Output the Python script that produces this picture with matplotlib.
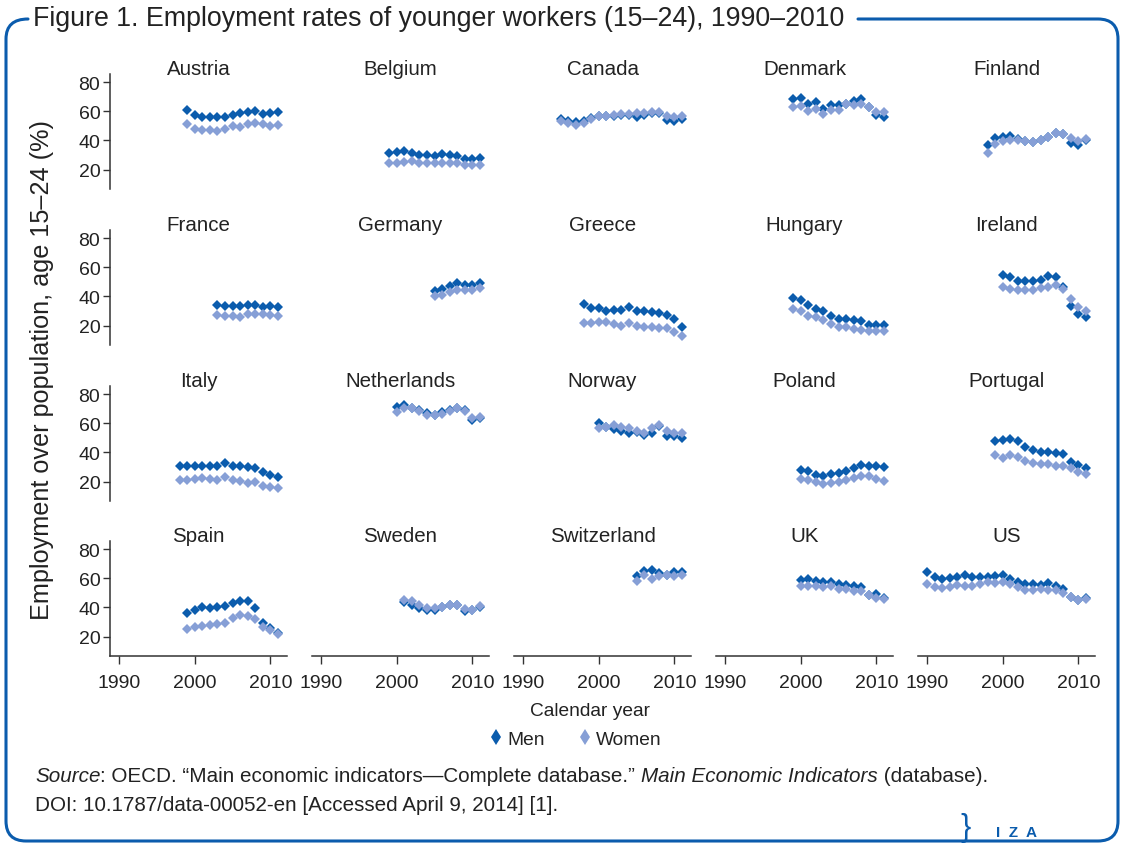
import matplotlib
matplotlib.use("Agg")
import matplotlib.pyplot as plt
from matplotlib import font_manager
from matplotlib.lines import Line2D
from matplotlib.path import Path
from matplotlib.patches import PathPatch

names = {f.name for f in font_manager.fontManager.ttflist}
BASE = "Liberation Sans" if "Liberation Sans" in names else "DejaVu Sans"
NARROW = "Liberation Sans Narrow" if "Liberation Sans Narrow" in names else BASE
plt.rcParams["font.family"] = [BASE, "DejaVu Sans"]

# ---------------- data ----------------
countries = ["Austria", "Belgium", "Canada", "Denmark", "Finland",
             "France", "Germany", "Greece", "Hungary", "Ireland",
             "Italy", "Netherlands", "Norway", "Poland", "Portugal",
             "Spain", "Sweden", "Switzerland", "UK", "US"]

first_year = {"Austria": 1999, "Belgium": 1999, "Canada": 1995, "Denmark": 1999,
              "Finland": 1998, "France": 2003, "Germany": 2005, "Greece": 1998,
              "Hungary": 1999, "Ireland": 2000, "Italy": 1998, "Netherlands": 2000,
              "Norway": 2000, "Poland": 2000, "Portugal": 1999, "Spain": 1999,
              "Sweden": 2001, "Switzerland": 2005, "UK": 2000, "US": 1990}

men = {
    "Austria": [61.0, 57.3, 56.0, 56.0, 56.0, 56.0, 57.3, 58.5, 59.6, 60.1, 57.8, 58.7, 59.8],
    "Belgium": [31.2, 32.4, 33.1, 31.7, 29.9, 29.9, 29.4, 30.5, 30.1, 29.4, 27.3, 27.1, 27.8],
    "Canada": [54.5, 53.5, 52.5, 53.0, 55.5, 56.5, 56.5, 57.0, 57.5, 57.5, 56.0, 57.5, 58.5, 59.0, 54.0, 53.0, 54.5],
    "Denmark": [68.5, 69.0, 64.7, 66.3, 61.5, 64.0, 64.0, 65.3, 67.2, 68.1, 62.8, 57.6, 56.4],
    "Finland": [37.0, 42.0, 42.7, 43.4, 41.1, 39.5, 39.0, 40.6, 42.2, 45.0, 44.5, 38.1, 37.0, 40.6],
    "France": [34.2, 33.5, 33.5, 33.3, 33.9, 33.9, 32.8, 33.5, 33.0],
    "Germany": [43.6, 45.4, 47.0, 49.0, 47.9, 47.9, 49.4],
    "Greece": [34.8, 32.4, 32.1, 30.3, 31.0, 30.6, 32.6, 29.9, 29.9, 29.4, 28.8, 27.4, 24.5, 19.3],
    "Hungary": [38.7, 37.3, 34.2, 31.5, 30.1, 26.5, 24.7, 24.7, 24.0, 22.9, 20.4, 20.4, 20.4],
    "Ireland": [54.4, 53.0, 50.6, 50.6, 50.8, 51.2, 53.7, 53.5, 46.5, 33.5, 28.3, 26.3],
    "Italy": [30.7, 30.7, 30.7, 30.7, 30.7, 30.5, 32.5, 30.9, 30.9, 30.0, 29.5, 26.4, 24.8, 23.4],
    "Netherlands": [71.1, 72.3, 70.5, 69.3, 66.8, 65.5, 67.5, 69.3, 70.2, 68.9, 62.5, 63.6],
    "Norway": [60.0, 57.3, 55.9, 54.5, 53.2, 53.9, 52.3, 53.0, 58.0, 51.4, 51.4, 50.0],
    "Poland": [27.7, 27.3, 24.8, 23.9, 25.5, 25.9, 27.3, 29.5, 31.4, 30.9, 30.9, 30.2],
    "Portugal": [48.2, 48.4, 49.1, 48.2, 43.9, 41.8, 40.2, 40.2, 39.5, 39.1, 33.4, 31.1, 29.5],
    "Spain": [36.4, 38.4, 40.2, 39.5, 40.2, 40.7, 43.2, 44.5, 44.5, 39.5, 29.3, 25.7, 22.5],
    "Sweden": [43.9, 42.0, 39.8, 38.0, 38.0, 40.2, 42.0, 42.0, 37.5, 38.0, 40.5],
    "Switzerland": [61.4, 65.2, 65.9, 63.9, 62.0, 64.5, 64.5],
    "UK": [58.9, 59.5, 58.2, 57.5, 57.5, 56.4, 55.2, 54.5, 53.9, 48.6, 48.9, 46.8],
    "US": [64.1, 60.7, 59.8, 60.5, 61.1, 62.0, 61.1, 60.9, 61.1, 61.4, 62.5, 59.5, 57.7, 56.1,
           56.1, 55.5, 56.6, 54.5, 52.7, 47.0, 45.2, 46.6],
}

women = {
    "Austria": [51.6, 47.9, 47.3, 47.3, 46.6, 47.9, 49.8, 49.5, 51.6, 52.3, 51.6, 49.8, 50.5],
    "Belgium": [24.8, 24.8, 25.5, 26.2, 24.4, 24.8, 24.8, 24.4, 24.8, 24.8, 23.2, 23.0, 23.4],
    "Canada": [53.5, 52.0, 50.5, 52.0, 54.5, 56.5, 56.5, 57.5, 58.0, 58.0, 58.5, 59.0, 59.5, 59.5, 57.0, 56.0, 56.5],
    "Denmark": [62.8, 63.3, 60.3, 61.5, 57.8, 61.2, 60.7, 64.9, 64.4, 65.3, 62.8, 59.8, 59.4],
    "Finland": [31.5, 37.9, 39.9, 40.6, 40.6, 39.5, 39.0, 40.6, 42.2, 45.0, 44.5, 41.8, 39.9, 41.1],
    "France": [27.2, 26.7, 26.7, 26.1, 28.1, 28.1, 27.9, 27.0, 26.7],
    "Germany": [40.2, 41.3, 43.1, 44.7, 44.7, 44.3, 45.6],
    "Greece": [22.0, 22.0, 22.7, 22.2, 21.3, 19.8, 21.6, 20.0, 19.1, 19.3, 18.7, 18.7, 16.0, 12.8],
    "Hungary": [31.5, 29.9, 26.7, 25.8, 24.0, 20.9, 19.1, 19.1, 17.8, 17.1, 16.4, 16.4, 16.4],
    "Ireland": [46.5, 45.2, 44.5, 44.5, 44.7, 46.1, 46.7, 47.6, 45.2, 38.0, 32.6, 30.4],
    "Italy": [20.9, 21.4, 21.8, 22.3, 21.6, 20.9, 23.2, 20.9, 20.2, 19.3, 19.5, 17.3, 16.6, 15.7],
    "Netherlands": [67.7, 70.5, 70.5, 68.4, 65.9, 65.5, 66.1, 68.6, 70.2, 68.4, 63.6, 64.3],
    "Norway": [56.6, 57.3, 58.6, 57.3, 57.0, 54.5, 53.4, 56.8, 58.6, 55.0, 53.2, 53.0],
    "Poland": [22.0, 21.4, 19.8, 18.6, 19.3, 19.5, 20.9, 22.7, 24.1, 23.6, 22.0, 20.2],
    "Portugal": [38.4, 36.4, 38.0, 37.0, 34.5, 32.7, 32.3, 32.3, 30.9, 30.9, 29.5, 26.6, 25.5],
    "Spain": [25.0, 26.6, 27.3, 27.7, 28.4, 29.1, 32.5, 34.8, 34.1, 32.3, 26.6, 24.3, 21.6],
    "Sweden": [44.8, 44.3, 42.0, 39.5, 39.5, 40.2, 42.0, 42.0, 39.1, 38.6, 40.9],
    "Switzerland": [58.4, 62.5, 59.5, 61.4, 62.5, 61.4, 62.0],
    "UK": [55.0, 55.0, 54.8, 54.1, 54.5, 52.5, 52.5, 51.6, 51.4, 48.6, 46.8, 45.5],
    "US": [56.1, 54.1, 53.4, 54.1, 55.5, 54.8, 55.0, 56.1, 57.3, 56.8, 57.5, 56.1, 54.1, 52.3,
           52.3, 52.5, 52.3, 52.0, 50.2, 47.0, 45.2, 45.5],
}

x_ticks = [1990, 2000, 2010]
y_ticks = [20, 40, 60, 80]

MEN_C = "#0b5cad"
WOMEN_C = "#869fd6"
TXT = "#222222"
AX_C = "#333333"
FRAME_C = "#0b5cad"

W, H = 1124, 845
fig = plt.figure(figsize=(W / 100, H / 100), dpi=100)

col_x = [110, 312, 514, 716, 918]
row_top = [75, 231, 387, 542]
aw, ah = 177, 115

for i, c in enumerate(countries):
    r, k = divmod(i, 5)
    ax = fig.add_axes([col_x[k] / W, 1 - (row_top[r] + ah) / H, aw / W, ah / H])
    yrs_m = list(range(first_year[c], first_year[c] + len(men[c])))
    yrs_w = list(range(first_year[c], first_year[c] + len(women[c])))
    ax.plot(yrs_m, men[c], linestyle="none", marker="D", markersize=4.7,
            color=MEN_C, markeredgewidth=0, zorder=3)
    ax.plot(yrs_w, women[c], linestyle="none", marker="D", markersize=4.7,
            color=WOMEN_C, markeredgewidth=0, zorder=4)
    ax.set_xlim(1988.8, 2012.2)
    ax.set_ylim(6.8, 85.5)
    ax.set_facecolor("none")
    for s in ["top", "right"]:
        ax.spines[s].set_visible(False)
    ax.set_title(c, fontsize=14.8, color=TXT, pad=0, y=1.0)
    if k == 0:
        ax.spines["left"].set_color(AX_C)
        ax.spines["left"].set_linewidth(1.1)
        ax.set_yticks(y_ticks)
        ax.tick_params(axis="y", length=5, width=1.0, color=AX_C,
                       labelsize=14, labelcolor=TXT, pad=2)
    else:
        ax.spines["left"].set_visible(False)
        ax.set_yticks([])
    if r == 3:
        ax.spines["bottom"].set_color(AX_C)
        ax.spines["bottom"].set_linewidth(1.1)
        ax.set_xticks(x_ticks)
        ax.tick_params(axis="x", length=6, width=1.0, color=AX_C,
                       labelsize=14, labelcolor=TXT, pad=7)
    else:
        ax.spines["bottom"].set_visible(False)
        ax.set_xticks([])

# y label
fig.text(42 / W, 1 - 370 / H, "Employment over population, age 15\u201324 (%)",
         rotation=90, ha="center", va="center", fontsize=18.2, color=TXT)
# x label
fig.text(590 / W, 1 - 712 / H, "Calendar year", ha="center", va="center",
         fontsize=13.8, color=TXT)

# legend
handles = [Line2D([], [], linestyle="none", marker="d", markersize=8.5, color=MEN_C,
                  markeredgewidth=0, label="Men"),
           Line2D([], [], linestyle="none", marker="d", markersize=8.5, color=WOMEN_C,
                  markeredgewidth=0, label="Women")]
fig.legend(handles=handles, loc="center", bbox_to_anchor=(574 / W, 1 - 740 / H),
           ncol=2, frameon=False, fontsize=13.8, handletextpad=0.1, columnspacing=1.6,
           handlelength=1.0, labelcolor=TXT)

# title
fig.text(33 / W, 1 - 19 / H,
         "Figure 1. Employment rates of younger workers (15\u201324), 1990\u20132010",
         ha="left", va="center", fontsize=19.3, color=TXT, family=[NARROW, "DejaVu Sans"])

# source text with mixed italics
fig.canvas.draw()
renderer = fig.canvas.get_renderer()
def rich_line(pieces, x0, y0):
    x = x0
    for txt, style in pieces:
        t = fig.text(x / W, 1 - y0 / H, txt, ha="left", va="center", fontsize=14.9,
                     color=TXT, style=style)
        bb = t.get_window_extent(renderer=renderer)
        x += bb.width

rich_line([("Source", "italic"),
           (": OECD. \u201cMain economic indicators\u2014Complete database.\u201d ", "normal"),
           ("Main Economic Indicators", "italic"),
           (" (database).", "normal")], 35, 777)
rich_line([("DOI: 10.1787/data-00052-en [Accessed April 9, 2014] [1].", "normal")], 35, 806)

# frame
fa = fig.add_axes([0, 0, 1, 1], zorder=-1)
fa.set_xlim(0, W)
fa.set_ylim(H, 0)
fa.axis("off")
rr = 20
verts = [(858, 20), (1118 - rr, 20), (1118, 20), (1118, 20 + rr),
         (1118, 842 - rr), (1118, 842), (1118 - rr, 842),
         (6 + rr, 842), (6, 842), (6, 842 - rr),
         (6, 20 + rr), (6, 20), (28, 20)]
codes = [Path.MOVETO, Path.LINETO, Path.CURVE3, Path.CURVE3,
         Path.LINETO, Path.CURVE3, Path.CURVE3,
         Path.LINETO, Path.CURVE3, Path.CURVE3,
         Path.LINETO, Path.CURVE3, Path.CURVE3]
fa.add_patch(PathPatch(Path(verts, codes), facecolor="none", edgecolor=FRAME_C,
                       linewidth=2.2, capstyle="round"))
# IZA mark
fa.text(1017, 833, "I  Z  A", ha="center", va="center", fontsize=11, color=FRAME_C,
        fontweight="bold")
fa.text(966, 828, "}", ha="center", va="center", fontsize=22, color=FRAME_C)

fig.savefig("out.png", dpi=100)
